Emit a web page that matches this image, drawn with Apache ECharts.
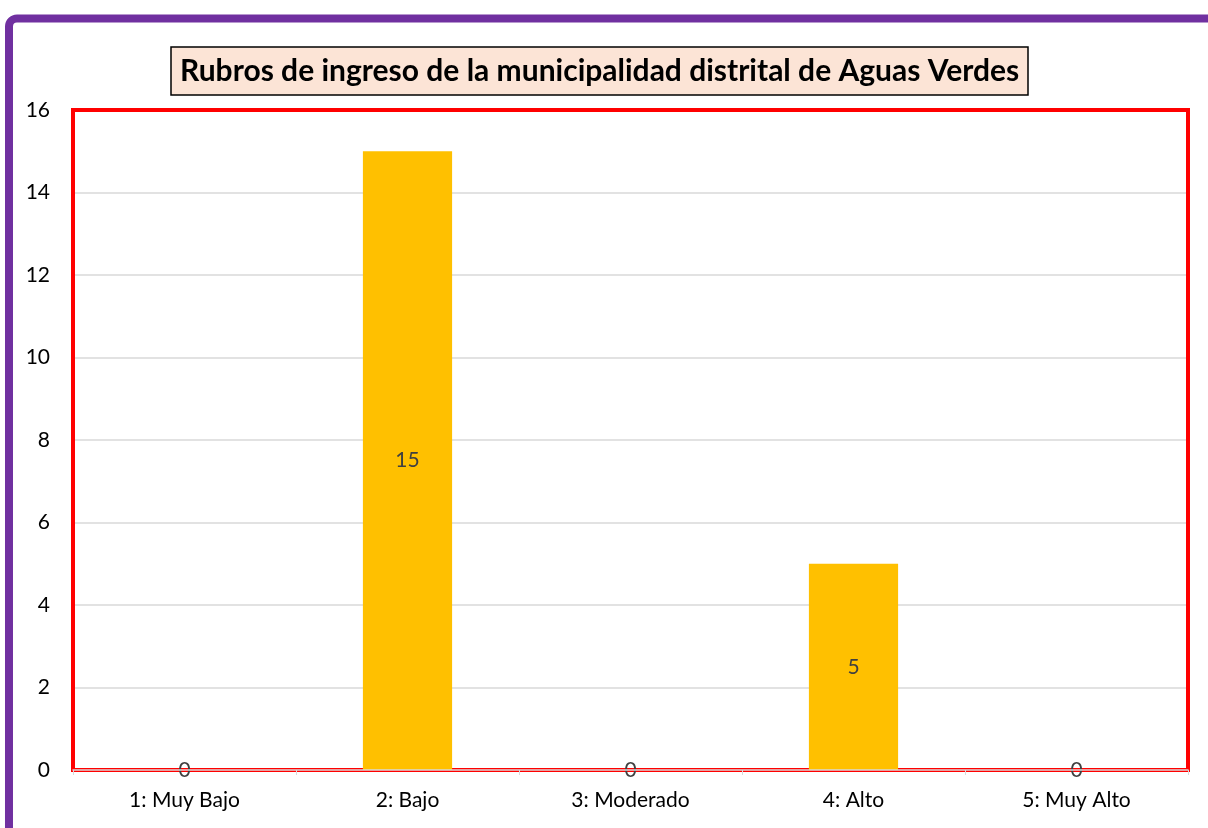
<!DOCTYPE html>
<html>
<head>
<meta charset="utf-8">
<script src="https://cdn.jsdelivr.net/npm/echarts@6/dist/echarts.min.js"></script>
<style>
  html, body { margin: 0; padding: 0; background: #fff; }
  #chart { width: 1208px; height: 828px; }
</style>
</head>
<body>
<div id="chart"></div>
<script>
var titleText = 'Rubros de ingreso de la municipalidad distrital de Aguas Verdes';
var categories = ['1: Muy Bajo', '2: Bajo', '3: Moderado', '4: Alto', '5: Muy Alto'];
var values = [0, 15, 0, 5, 0];
var yMin = 0, yMax = 16, yStep = 2;

var fontName = 'Lato';
var myChart = echarts.init(document.getElementById('chart'));
var option = {
	animation: false,
	backgroundColor: '#fff',
	title: {
		text: titleText,
		left: 171,
		top: 47,
		padding: [7, 9, 7, 9],
		backgroundColor: '#FCE4D6',
		borderColor: '#000',
		borderWidth: 1.5,
		textStyle: {
			fontFamily: fontName,
			fontWeight: 'bold',
			fontSize: 30,
			lineHeight: 34,
			color: '#000'
		}
	},
	graphic: [{
		type: 'rect',
		z: 100,
		silent: true,
		shape: {x: 9, y: 18.5, width: 1400, height: 1000, r: 8},
		style: {fill: 'none', stroke: '#7030A0', lineWidth: 8}
	}, {
		// red frame round the plot area
		type: 'rect',
		z: 1,
		silent: true,
		shape: {x: 73, y: 110, width: 1115, height: 660},
		style: {fill: 'none', stroke: '#FF0000', lineWidth: 4}
	}],
	grid: {
		left: 73,
		right: 20,
		top: 110,
		bottom: 58
	},
	xAxis: {
		type: 'category',
		data: categories,
		z: 3,
		axisLine: {show: true, lineStyle: {color: '#D9D9D9', width: 1.5}},
		axisTick: {show: true, length: 5, lineStyle: {color: '#D9D9D9'}},
		axisLabel: {
			margin: 20,
			fontFamily: fontName,
			fontSize: 21,
			color: '#000'
		}
	},
	yAxis: {
		type: 'value',
		min: yMin,
		max: yMax,
		interval: yStep,
		axisLine: {show: false},
		axisTick: {show: false},
		splitLine: {showMaxLine: false, lineStyle: {color: '#D9D9D9', width: 1.5}},
		axisLabel: {
			margin: 23,
			fontFamily: fontName,
			fontSize: 21,
			color: '#000'
		}
	},
	series: [{
		type: 'bar',
		data: values,
		barWidth: '40%',
		z: 2,
		itemStyle: {color: '#FFC000'},
		label: {
			show: true,
			position: 'inside',
			fontFamily: fontName,
			fontSize: 21,
			color: '#404040'
		}
	}]
};
myChart.setOption(option);
</script>
</body>
</html>
